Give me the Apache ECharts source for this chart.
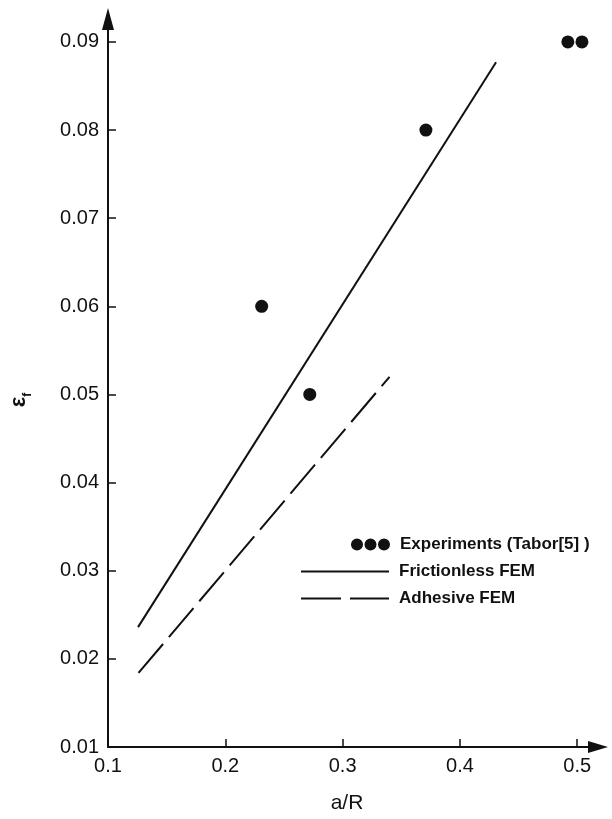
<!DOCTYPE html>
<html>
<head>
<meta charset="utf-8">
<script src="https://cdn.jsdelivr.net/npm/echarts@6/dist/echarts.min.js"></script>
<style>
  html, body { margin: 0; padding: 0; background: #ffffff; }
  #chart { width: 612px; height: 819px; }
</style>
</head>
<body>
<div id="chart"></div>
<script>
// Tick values on each axis
const xTicks = [0.1, 0.2, 0.3, 0.4, 0.5];
const yTicks = [0.01, 0.02, 0.03, 0.04, 0.05, 0.06, 0.07, 0.08, 0.09];

// Experimental points (Tabor [5])
const experimentsX = [0.231, 0.272, 0.371, 0.492, 0.504];
const experimentsY = [0.060, 0.050, 0.080, 0.090, 0.090];

// Finite element results: frictionless contact
const frictionlessX = [0.1256, 0.4308];
const frictionlessY = [0.0236, 0.0877];

// Finite element results: adhesive contact
const adhesiveX = [0.126, 0.340];
const adhesiveY = [0.0184, 0.0520];

const seriesNames = ['Experiments (Tabor[5] )', 'Frictionless FEM', 'Adhesive FEM'];

const zip = (xs, ys) => xs.map((x, i) => [x, ys[i]]);

const INK = '#111111';
const FONT = 'Liberation Sans, Arial, sans-serif';

// Legend keys: three dots, a solid stroke and a long-dash stroke
const ICON_DOTS = 'path://M0,6a6,6 0 1,0 12,0a6,6 0 1,0 -12,0Z M13.5,6a6,6 0 1,0 12,0a6,6 0 1,0 -12,0Z M27,6a6,6 0 1,0 12,0a6,6 0 1,0 -12,0Z';
const ICON_SOLID = 'path://M0,0H88V2H0Z';
const ICON_DASHED = 'path://M0,0H40V2H0Z M49,0H88V2H49Z';

const chart = echarts.init(document.getElementById('chart'), null, { renderer: 'canvas' });

const baseAxis = {
  type: 'value',
  splitLine: { show: false },
  axisLine: {
    show: true,
    onZero: false,
    symbol: ['none', 'triangle'],
    lineStyle: { color: INK, width: 2 }
  },
  axisTick: {
    show: true,
    inside: true,
    length: 8,
    lineStyle: { color: INK, width: 1.5 }
  },
  axisLabel: {
    color: INK,
    fontFamily: FONT,
    fontSize: 20
  }
};

const legendBase = {
  orient: 'horizontal',
  selectedMode: false,
  itemStyle: { color: INK, borderWidth: 0, opacity: 1 },
  textStyle: { color: INK, fontFamily: FONT, fontSize: 17, fontWeight: 'bold', padding: [0, 0, 0, 5] },
  padding: 0
};

chart.setOption({
  animation: false,
  backgroundColor: '#ffffff',
  grid: { left: 108, right: 14, top: 19, bottom: 72, containLabel: false },
  xAxis: Object.assign({}, baseAxis, {
    min: 0.1,
    max: 0.5177,
    name: 'a/R',
    nameLocation: 'middle',
    nameGap: 46,
    nameTextStyle: { color: INK, fontFamily: FONT, fontSize: 21, padding: [0, 12, 0, 0] },
    axisLine: Object.assign({}, baseAxis.axisLine, { symbolSize: [12, 20] }),
    axisTick: Object.assign({}, baseAxis.axisTick, { customValues: xTicks }),
    axisLabel: Object.assign({}, baseAxis.axisLabel, {
      customValues: xTicks,
      margin: 9,
      formatter: v => v.toFixed(1)
    })
  }),
  yAxis: Object.assign({}, baseAxis, {
    min: 0.01,
    max: 0.0926,
    axisLine: Object.assign({}, baseAxis.axisLine, { symbolSize: [12, 22] }),
    axisTick: Object.assign({}, baseAxis.axisTick, { customValues: yTicks }),
    axisLabel: Object.assign({}, baseAxis.axisLabel, {
      customValues: yTicks,
      margin: 9,
      formatter: v => v.toFixed(2)
    })
  }),
  legend: [
    Object.assign({}, legendBase, {
      data: [{ name: seriesNames[0], icon: ICON_DOTS }],
      left: 351, top: 536, itemWidth: 39, itemHeight: 12
    }),
    Object.assign({}, legendBase, {
      data: [{ name: seriesNames[1], icon: ICON_SOLID }],
      left: 301, top: 563, itemWidth: 88, itemHeight: 14
    }),
    Object.assign({}, legendBase, {
      data: [{ name: seriesNames[2], icon: ICON_DASHED }],
      left: 301, top: 590, itemWidth: 88, itemHeight: 14
    })
  ],
  graphic: [{
    type: 'text',
    x: 19,
    y: 400,
    rotation: Math.PI / 2,
    style: {
      text: '{e|ε}{f|f}',
      align: 'center',
      verticalAlign: 'middle',
      fill: INK,
      rich: {
        e: { fontFamily: FONT, fontSize: 22, fontWeight: 'bold', lineHeight: 30, verticalAlign: 'middle', fill: INK },
        f: { fontFamily: FONT, fontSize: 12, fontWeight: 'bold', lineHeight: 30, verticalAlign: 'bottom', fill: INK }
      }
    }
  }],
  series: [
    {
      name: seriesNames[0],
      type: 'scatter',
      data: zip(experimentsX, experimentsY),
      symbol: 'circle',
      symbolSize: 13,
      itemStyle: { color: INK, opacity: 1 }
    },
    {
      name: seriesNames[1],
      type: 'line',
      data: zip(frictionlessX, frictionlessY),
      symbol: 'none',
      showSymbol: false,
      lineStyle: { color: INK, width: 2, type: 'solid' },
      itemStyle: { color: INK }
    },
    {
      name: seriesNames[2],
      type: 'line',
      data: zip(adhesiveX, adhesiveY),
      symbol: 'none',
      showSymbol: false,
      lineStyle: { color: INK, width: 2, type: [38, 9] },
      itemStyle: { color: INK }
    }
  ]
});
</script>
</body>
</html>
